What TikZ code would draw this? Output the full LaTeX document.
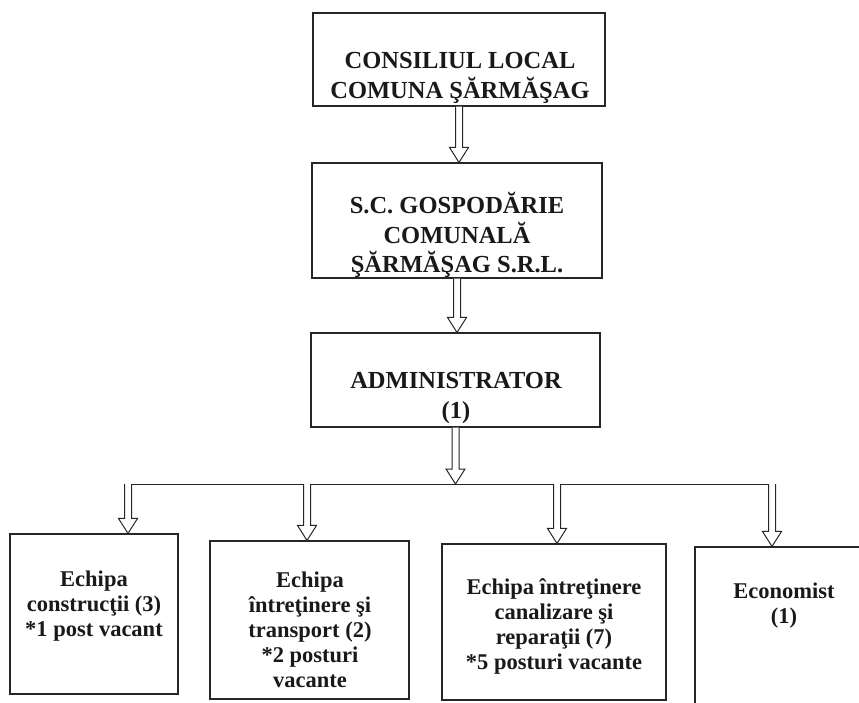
\documentclass[tikz,border=0pt]{standalone}
\usepackage{fontspec}
\setmainfont{Liberation Serif}
\usetikzlibrary{calc}

\tikzset{
  box/.style={draw=black!85, line width=1.1pt, rectangle, inner sep=0pt},
  bigtext/.style={font=\bfseries\fontsize{24.5}{29.5}\selectfont, align=center, inner sep=0pt, text=black!90},
  smalltext/.style={font=\bfseries\fontsize{22.5}{25}\selectfont, align=center, inner sep=0pt, text=black!90},
  hollow/.style={draw=black!85, line width=1pt, fill=white, line join=miter},
  busline/.style={draw=black!85, line width=1pt},
}

% hollow arrow: shaft at x of #1, tip at y of #2
\newcommand{\blockarrow}[2]{%
  \draw[hollow] let \p1=(#1), \p2=(#2) in
    ({\x1-3.5pt},\y1) -- ({\x1-3.5pt},{\y2+15pt}) -- ({\x1-9.5pt},{\y2+15pt}) -- (\x1,\y2)
    -- ({\x1+9.5pt},{\y2+15pt}) -- ({\x1+3.5pt},{\y2+15pt}) -- ({\x1+3.5pt},\y1);
}

\begin{document}
\begin{tikzpicture}[x=1pt,y=-1pt]
  % Page frame
  \useasboundingbox (0,0) rectangle (859,702);
  \clip (0,0) rectangle (859,702);

  % Draw the upper boxes
  \node[box, minimum width=292pt, minimum height=93pt]  (cons)  at (459,59.5)  {};
  \node[box, minimum width=290pt, minimum height=115pt] (gosp)  at (457,220.5) {};
  \node[box, minimum width=289pt, minimum height=94pt]  (admin) at (455.5,380) {};

  % Draw the team boxes
  \node[box, minimum width=168pt, minimum height=160pt] (constr) at (94,614)    {};
  \node[box, minimum width=199pt, minimum height=158pt] (transp) at (309.5,620) {};
  \node[box, minimum width=224pt, minimum height=156pt] (canal)  at (554,622)   {};
  \node[box, minimum width=220pt, minimum height=200pt] (econ)   at (805,647)   {};

  % Write the titles
  \node[bigtext] (consT)  at (460,78)  {CONSILIUL LOCAL\\COMUNA ŞĂRMĂŞAG};
  \node[bigtext] (gospT)  at (457,235) {S.C. GOSPODĂRIE\\COMUNALĂ\\ŞĂRMĂŞAG S.R.L.};
  \node[bigtext] (adminT) at (456,398) {ADMINISTRATOR\\(1)};

  \node[smalltext] (constrT) at (94,606)  {Echipa\\construcţii (3)\\*1 post vacant};
  \node[smalltext] (transpT) at (310,630) {Echipa\\întreţinere şi\\transport (2)\\*2 posturi\\vacante};
  \node[smalltext] (canalT)  at (554,626) {Echipa întreţinere\\canalizare şi\\reparaţii (7)\\*5 posturi vacante};
  \node[smalltext] (econT)   at (784,606) {Economist\\(1)};

  % Draw the distribution line
  \coordinate (busL) at (128,484);
  \coordinate (busB) at (307,484);
  \coordinate (busC) at (557,484);
  \coordinate (busR) at (772,484);
  \draw[busline] (busL) -- (busR);

  % Draw the arrows
  \blockarrow{cons.south}{gosp.north}
  \blockarrow{gosp.south}{admin.north}
  \blockarrow{admin.south}{admin.south |- busL}
  \blockarrow{busL}{busL |- constr.north}
  \blockarrow{busB}{busB |- transp.north}
  \blockarrow{busC}{busC |- canal.north}
  \blockarrow{busR}{busR |- econ.north}
\end{tikzpicture}
\end{document}
